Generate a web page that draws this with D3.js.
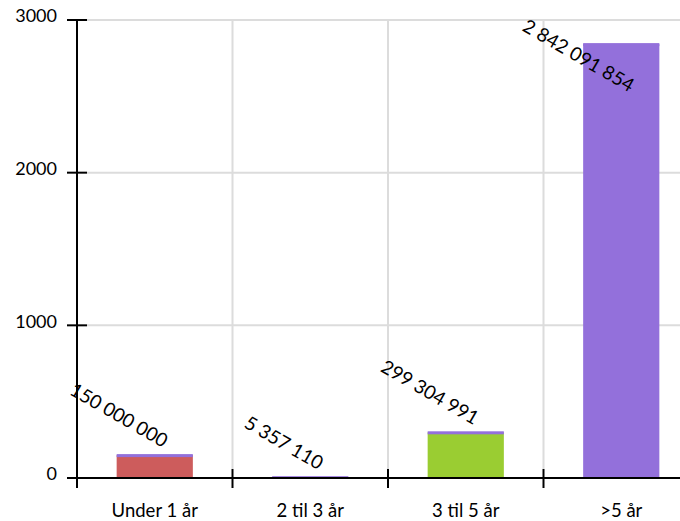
<!DOCTYPE html>
<html>
<head>
<meta charset="utf-8">
<script src="https://d3js.org/d3.v7.min.js"></script>
<style>
  body { margin: 0; background: #fff; }
  svg { display: block; }
  text { font-family: Lato, "Open Sans", sans-serif; fill: #000; }
</style>
</head>
<body>
<div id="chart"></div>
<script>
// data (values in millions, labels show the full number)
var categories = ["Under 1 år", "2 til 3 år", "3 til 5 år", ">5 år"];
var values = [150.000000, 5.357110, 299.304991, 2842.091854];
var valueLabels = ["150 000 000", "5 357 110", "299 304 991", "2 842 091 854"];
var barColors = ["#cd5c5c", "#9370db", "#9acd32", "#9370db"];
var yTicks = [0, 1000, 2000, 3000];

var width = 680, height = 521;
var margin = {top: 20, left: 77, bottom: 43};
var plotRight = 699; // last band runs past the window edge

var svg = d3.select("#chart").append("svg")
    .attr("width", width)
    .attr("height", height);

var x = d3.scaleBand()
    .domain(categories)
    .range([margin.left, plotRight]);

var y = d3.scaleLinear()
    .domain([0, 3000])
    .range([height - margin.bottom, margin.top]);

// grid
svg.append("g").selectAll("line")
    .data(yTicks.slice(1))
  .enter().append("line")
    .attr("x1", margin.left + 10).attr("x2", plotRight)
    .attr("y1", function(d) { return y(d); })
    .attr("y2", function(d) { return y(d); })
    .attr("stroke", "#dcdcdc").attr("stroke-width", 2);

svg.append("g").selectAll("line")
    .data(categories.slice(1))
  .enter().append("line")
    .attr("x1", function(d) { return x(d); })
    .attr("x2", function(d) { return x(d); })
    .attr("y1", y(3000)).attr("y2", y(0) - 9)
    .attr("stroke", "#dcdcdc").attr("stroke-width", 2);

// bars
var bw = x.bandwidth() * 0.49;
var bars = svg.append("g").selectAll("g")
    .data(values)
  .enter().append("g");

bars.append("rect")
    .attr("x", function(d, i) { return x(categories[i]) + x.bandwidth() / 2 - bw / 2; })
    .attr("width", bw)
    .attr("y", function(d) { return y(d); })
    .attr("height", function(d) { return y(0) - y(d); })
    .attr("fill", function(d, i) { return barColors[i]; });

// thin purple cap on top of each bar
bars.append("rect")
    .attr("x", function(d, i) { return x(categories[i]) + x.bandwidth() / 2 - bw / 2; })
    .attr("width", bw)
    .attr("y", function(d) { return y(d) - 1; })
    .attr("height", function(d) { return Math.min(3, y(0) - y(d) + 1); })
    .attr("fill", "#9370db");

// axes
var yAxis = svg.append("g")
    .attr("transform", "translate(" + margin.left + ",0)")
    .call(d3.axisLeft(y).tickValues(yTicks).tickFormat(d3.format("d")).tickSize(0).tickPadding(20));
yAxis.select(".domain").remove();
yAxis.selectAll("text").style("font-size", "18px").attr("dy", "0.1em");

svg.append("g").selectAll("line")
    .data(yTicks)
  .enter().append("line")
    .attr("x1", margin.left - 10).attr("x2", margin.left + 10)
    .attr("y1", function(d) { return y(d); })
    .attr("y2", function(d) { return y(d); })
    .attr("stroke", "#000").attr("stroke-width", 2);

svg.append("line")
    .attr("x1", margin.left).attr("x2", margin.left)
    .attr("y1", y(3000)).attr("y2", y(0) + 10)
    .attr("stroke", "#000").attr("stroke-width", 2);

svg.append("line")
    .attr("x1", margin.left - 10).attr("x2", plotRight)
    .attr("y1", y(0)).attr("y2", y(0))
    .attr("stroke", "#000").attr("stroke-width", 2);

svg.append("g").selectAll("line")
    .data(categories.slice(1))
  .enter().append("line")
    .attr("x1", function(d) { return x(d); })
    .attr("x2", function(d) { return x(d); })
    .attr("y1", y(0) - 9).attr("y2", y(0) + 10)
    .attr("stroke", "#000").attr("stroke-width", 2);

svg.append("g").selectAll("text")
    .data(categories)
  .enter().append("text")
    .attr("x", function(d) { return x(d) + x.bandwidth() / 2; })
    .attr("y", y(0) + 39)
    .attr("text-anchor", "middle")
    .style("font-size", "18.5px")
    .text(function(d) { return d; });

// rotated value labels, end anchored near the bar top
var labels = svg.append("g").selectAll("text")
    .data(values)
  .enter().append("text")
    .attr("text-anchor", "end")
    .style("font-size", "19px")
    .text(function(d, i) { return valueLabels[i]; });

labels.each(function(d, i) {
  var len = this.getComputedTextLength();
  var cx = x(categories[i]) + x.bandwidth() / 2 + 8;
  var ey = y(d) - 7;
  var minEnd = 26 + len * 0.5 + 4;
  if (ey < minEnd) ey = minEnd;
  d3.select(this).attr("transform", "translate(" + cx + "," + ey + ") rotate(30)");
});
</script>
</body>
</html>
